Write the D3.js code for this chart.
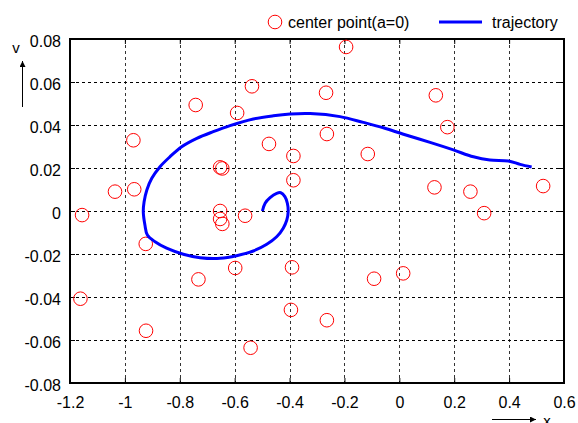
<!DOCTYPE html>
<html>
<head>
<meta charset="utf-8">
<script src="https://cdn.jsdelivr.net/npm/d3@7/dist/d3.min.js"></script>
<style>
  body { margin: 0; background: #fff; }
  svg { display: block; font-family: "Liberation Sans", Arial, sans-serif; }
</style>
</head>
<body>
<svg width="578" height="423"></svg>
<script>
// center points (a=0)
var centerX = [-0.194, -0.537, -0.742, -0.591, -0.267, 0.133, -0.969, -0.475, -0.264, 0.175,
    -0.386, -0.115, -0.653, -0.645, -0.386, -1.036, -0.966, 0.128, 0.259, 0.524,
    -1.156, -0.653, -0.653, -0.645, -0.562, 0.309, -0.924, -0.598, -0.391, -0.732,
    -0.092, 0.014, -1.162, -0.395, -0.264, -0.923, -0.542];
var centerY = [0.0763, 0.058, 0.0493, 0.0456, 0.055, 0.0538, 0.0329, 0.0312, 0.0358, 0.039,
    0.0256, 0.0265, 0.0203, 0.0198, 0.0143, 0.009, 0.0101, 0.011, 0.009, 0.0116,
    -0.0019, 0.0, -0.0037, -0.006, -0.0022, -0.001, -0.0153, -0.0265, -0.0262, -0.0318,
    -0.0315, -0.029, -0.0408, -0.046, -0.0508, -0.0557, -0.0636];

// trajectory
var trajX = [-0.499, -0.489, -0.471, -0.447, -0.432, -0.417, -0.408, -0.405, -0.410, -0.423,
    -0.447, -0.483, -0.532, -0.593, -0.653, -0.726, -0.787, -0.848, -0.890, -0.918,
    -0.927, -0.933, -0.930, -0.920, -0.902, -0.872, -0.836, -0.793, -0.738, -0.678,
    -0.617, -0.532, -0.459, -0.398, -0.325, -0.216, -0.131, -0.058, 0.015, 0.112,
    0.197, 0.270, 0.330, 0.397, 0.440, 0.482];
var trajY = [0.0, 0.0036, 0.0062, 0.0082, 0.0085, 0.0067, 0.0036, -0.0003, -0.0042, -0.0080,
    -0.0120, -0.0155, -0.0186, -0.0208, -0.0220, -0.0217, -0.0201, -0.0173, -0.0143, -0.0112,
    -0.0065, -0.0003, 0.0043, 0.0098, 0.0152, 0.0206, 0.0252, 0.0299, 0.0338, 0.0369,
    0.0397, 0.0428, 0.0443, 0.0451, 0.0453, 0.0439, 0.0412, 0.0387, 0.0357, 0.0319,
    0.0284, 0.0252, 0.0237, 0.0233, 0.0217, 0.0205];

var xTicks = [-1.2, -1, -0.8, -0.6, -0.4, -0.2, 0, 0.2, 0.4, 0.6];
var xTickLabels = ["-1.2", "-1", "-0.8", "-0.6", "-0.4", "-0.2", "0", "0.2", "0.4", "0.6"];
var yTicks = [-0.08, -0.06, -0.04, -0.02, 0, 0.02, 0.04, 0.06, 0.08];
var yTickLabels = ["-0.08", "-0.06", "-0.04", "-0.02", "0", "0.02", "0.04", "0.06", "0.08"];

var svg = d3.select("svg"),
    margin = {top: 39, right: 14, bottom: 40, left: 70},
    width = +svg.attr("width") - margin.left - margin.right,
    height = +svg.attr("height") - margin.top - margin.bottom,
    g = svg.append("g").attr("transform", "translate(" + margin.left + "," + margin.top + ")");

var x = d3.scaleLinear().domain([-1.2, 0.6]).range([0, width]);
var y = d3.scaleLinear().domain([-0.08, 0.08]).range([height, 0]);

// grid
g.append("g")
    .selectAll("line")
    .data(xTicks.slice(1, -1))
    .enter().append("line")
    .attr("x1", function(d) { return Math.round(x(d)) + 0.5; })
    .attr("x2", function(d) { return Math.round(x(d)) + 0.5; })
    .attr("y1", 0).attr("y2", height)
    .attr("stroke", "#333").attr("stroke-dasharray", "3,3");
g.append("g")
    .selectAll("line")
    .data(yTicks.slice(1, -1))
    .enter().append("line")
    .attr("y1", function(d) { return Math.round(y(d)) + 0.5; })
    .attr("y2", function(d) { return Math.round(y(d)) + 0.5; })
    .attr("x1", 0).attr("x2", width)
    .attr("stroke", "#000").attr("stroke-dasharray", "3,3");

// x axis
var xAxis = g.append("g")
    .attr("transform", "translate(0," + height + ")")
    .call(d3.axisBottom(x).tickValues(xTicks).tickSize(0).tickPadding(14)
        .tickFormat(function(d, i) { return xTickLabels[i]; }));
xAxis.select(".domain").remove();

// y axis
var yAxis = g.append("g")
    .call(d3.axisLeft(y).tickValues(yTicks).tickSize(0).tickPadding(9)
        .tickFormat(function(d, i) { return yTickLabels[i]; }));
yAxis.select(".domain").remove();

svg.selectAll(".tick text").attr("font-size", 16).attr("fill", "#000")
    .attr("font-family", "'Liberation Sans', Arial, sans-serif");
yAxis.selectAll(".tick text").attr("dy", "0.45em");

// inner ticks on all four sides
g.append("g").call(d3.axisLeft(y).tickValues(yTicks).tickSize(5).tickFormat(""))
    .attr("transform", "translate(" + width + ",0)")
    .select(".domain").remove();
g.append("g").call(d3.axisRight(y).tickValues(yTicks).tickSize(5).tickFormat(""))
    .select(".domain").remove();
g.append("g").call(d3.axisTop(x).tickValues(xTicks).tickSize(5).tickFormat(""))
    .attr("transform", "translate(0," + height + ")")
    .select(".domain").remove();
g.append("g").call(d3.axisBottom(x).tickValues(xTicks).tickSize(5).tickFormat(""))
    .select(".domain").remove();

// frame
g.append("rect")
    .attr("x", 0).attr("y", 0)
    .attr("width", width).attr("height", height)
    .attr("fill", "none").attr("stroke", "#000").attr("stroke-width", 2);

// center points
var pts = centerX.map(function(d, i) { return {x: d, y: centerY[i]}; });
g.selectAll("circle.center")
    .data(pts)
    .enter().append("circle")
    .attr("class", "center")
    .attr("cx", function(d) { return x(d.x); })
    .attr("cy", function(d) { return y(d.y); })
    .attr("r", 6.8)
    .attr("fill", "none")
    .attr("stroke", "#ff0000")
    .attr("stroke-width", 1);

// trajectory line
var traj = trajX.map(function(d, i) { return {x: d, y: trajY[i]}; });
var line = d3.line()
    .x(function(d) { return x(d.x); })
    .y(function(d) { return y(d.y); })
    .curve(d3.curveCatmullRom);
g.append("path")
    .datum(traj)
    .attr("d", line)
    .attr("fill", "none")
    .attr("stroke", "#0000ff")
    .attr("stroke-width", 3)
    .attr("stroke-linejoin", "round");

// legend
var legend = svg.append("g").attr("font-size", 16);
legend.append("circle")
    .attr("cx", 275).attr("cy", 22).attr("r", 6.8)
    .attr("fill", "none").attr("stroke", "#ff0000");
legend.append("text").attr("x", 288).attr("y", 28).text("center point(a=0)");
legend.append("line")
    .attr("x1", 439).attr("x2", 482).attr("y1", 22).attr("y2", 22)
    .attr("stroke", "#0000ff").attr("stroke-width", 3);
legend.append("text").attr("x", 492).attr("y", 28).text("trajectory");

// axis name arrows
svg.append("defs").append("marker")
    .attr("id", "arr")
    .attr("viewBox", "0 0 10 10")
    .attr("refX", 10).attr("refY", 5)
    .attr("markerWidth", 8).attr("markerHeight", 6)
    .attr("markerUnits", "userSpaceOnUse")
    .attr("orient", "auto")
    .append("path").attr("d", "M0,0L10,5L0,10z").attr("fill", "#000");

svg.append("line")
    .attr("x1", 22.5).attr("x2", 22.5).attr("y1", 107).attr("y2", 61)
    .attr("stroke", "#000").attr("marker-end", "url(#arr)");
svg.append("text").attr("x", 16).attr("y", 53).attr("text-anchor", "middle")
    .attr("font-size", 15).text("v");

svg.append("line")
    .attr("x1", 492).attr("x2", 536).attr("y1", 419.5).attr("y2", 419.5)
    .attr("stroke", "#000").attr("marker-end", "url(#arr)");
svg.append("text").attr("x", 547).attr("y", 426).attr("text-anchor", "middle")
    .attr("font-size", 15).text("x");
</script>
</body>
</html>
